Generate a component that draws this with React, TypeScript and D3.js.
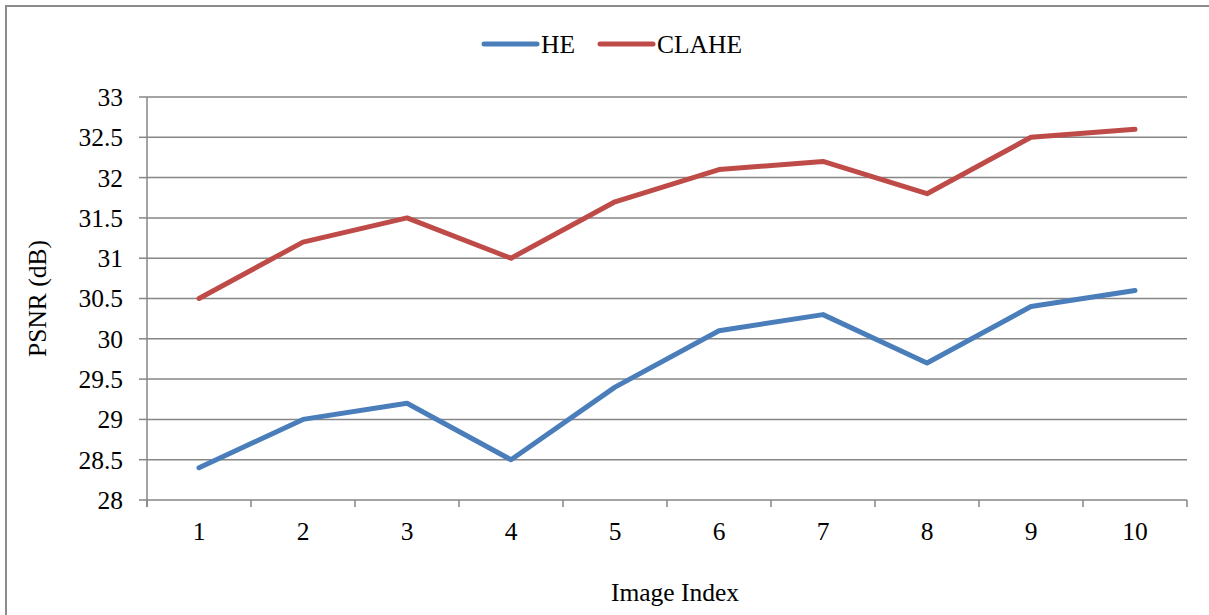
import React from "react";
import * as d3 from "d3";

const imageIndex = [1, 2, 3, 4, 5, 6, 7, 8, 9, 10];
const heValues = [28.4, 29.0, 29.2, 28.5, 29.4, 30.1, 30.3, 29.7, 30.4, 30.6];
const claheValues = [30.5, 31.2, 31.5, 31.0, 31.7, 32.1, 32.2, 31.8, 32.5, 32.6];
const yTicks = [28, 28.5, 29, 29.5, 30, 30.5, 31, 31.5, 32, 32.5, 33];
const seriesNames = ["HE", "CLAHE"];
const seriesColors = ["#4a7ebb", "#be4b48"];

const W = 1209;
const H = 615;
const plot = { left: 147, right: 1187, top: 97, bottom: 500 };
const FONT = "'Liberation Serif', 'Times New Roman', serif";
const FS = 25.5;

export default function App() {
  const x = d3
    .scaleBand<number>()
    .domain(imageIndex)
    .range([plot.left, plot.right]);
  const y = d3.scaleLinear().domain([28, 33]).range([plot.bottom, plot.top]);

  const line = d3
    .line<number>()
    .x((_, i) => (x(imageIndex[i]) as number) + x.bandwidth() / 2)
    .y((v) => y(v));

  const series = [heValues, claheValues];
  const gridColor = "#868686";
  const boundaries = [...imageIndex.map((d) => x(d) as number), plot.right];

  return (
    <svg
      width={W}
      height={H}
      style={{ position: "absolute", left: 0, top: 0, background: "#fff" }}
      fontFamily={FONT}
    >
      {/* outer chart frame */}
      <rect x={6} y={6} width={W + 20} height={H + 20} fill="none" stroke="#8c8c8c" strokeWidth={2} />

      {/* horizontal gridlines and y ticks */}
      {yTicks.map((t) => (
        <g key={t}>
          <line x1={plot.left} x2={plot.right} y1={y(t)} y2={y(t)} stroke={gridColor} strokeWidth={1.5} />
          <line x1={plot.left - 8} x2={plot.left} y1={y(t)} y2={y(t)} stroke={gridColor} strokeWidth={1.5} />
          <text x={123} y={y(t)} dy="0.35em" textAnchor="end" fontSize={FS} fill="#000">
            {t}
          </text>
        </g>
      ))}

      {/* axes */}
      <line x1={plot.left} x2={plot.left} y1={plot.top} y2={plot.bottom + 7} stroke={gridColor} strokeWidth={1.5} />
      {boundaries.map((b, i) => (
        <line key={i} x1={b} x2={b} y1={plot.bottom} y2={plot.bottom + 7} stroke={gridColor} strokeWidth={1.5} />
      ))}
      {imageIndex.map((d) => (
        <text
          key={d}
          x={(x(d) as number) + x.bandwidth() / 2}
          y={531}
          dy="0.35em"
          textAnchor="middle"
          fontSize={FS}
          fill="#000"
        >
          {d}
        </text>
      ))}

      {/* series lines */}
      {series.map((vals, i) => (
        <path
          key={seriesNames[i]}
          d={line(vals) as string}
          fill="none"
          stroke={seriesColors[i]}
          strokeWidth={5}
          strokeLinejoin="round"
          strokeLinecap="round"
        />
      ))}

      {/* legend */}
      {seriesNames.map((name, i) => {
        const lx = i === 0 ? 484 : 600;
        return (
          <g key={name}>
            <line x1={lx} x2={lx + 53} y1={44} y2={44} stroke={seriesColors[i]} strokeWidth={5} strokeLinecap="round" />
            <text x={lx + 57} y={44} dy="0.35em" fontSize={FS} fill="#000">
              {name}
            </text>
          </g>
        );
      })}

      {/* axis titles */}
      <text
        transform={`translate(37, ${(plot.top + plot.bottom) / 2}) rotate(-90)`}
        textAnchor="middle"
        dy="0.35em"
        fontSize={FS}
        fill="#000"
      >
        PSNR (dB)
      </text>
      <text x={675} y={592} dy="0.35em" textAnchor="middle" fontSize={FS} fill="#000">
        Image Index
      </text>
    </svg>
  );
}
